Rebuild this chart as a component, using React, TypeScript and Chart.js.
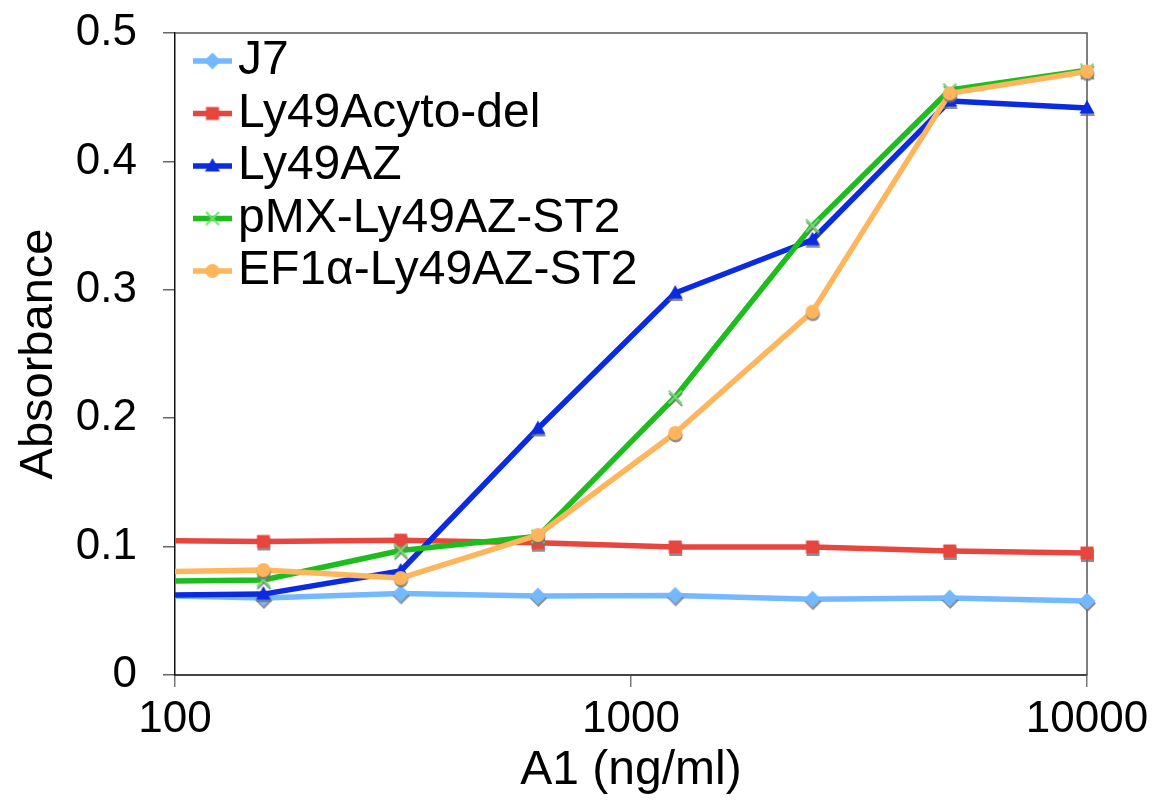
import React, { useEffect, useRef } from 'react';
import { Chart, registerables } from 'chart.js';

Chart.register(...registerables);

// ---- data ----
const concentrations = [78.125, 156.25, 312.5, 625, 1250, 2500, 5000, 10000];
const seriesNames = ['J7', 'Ly49Acyto-del', 'Ly49AZ', 'pMX-Ly49AZ-ST2', 'EF1α-Ly49AZ-ST2'];
const j7Values = [0.0623, 0.060, 0.0635, 0.0615, 0.062, 0.059, 0.060, 0.0576];
const cytoDelValues = [0.105, 0.104, 0.105, 0.103, 0.0997, 0.0997, 0.0966, 0.095];
const ly49azValues = [0.0619, 0.063, 0.081, 0.192, 0.2975, 0.339, 0.447, 0.4416];
const pmxValues = [0.0728, 0.074, 0.097, 0.108, 0.2165, 0.350, 0.4556, 0.471];
const ef1Values = [0.0798, 0.0818, 0.0755, 0.109, 0.1885, 0.283, 0.453, 0.470];
const xTickValues = [100, 1000, 10000];
const yTickStep = 0.1;

const FONT = '"Liberation Sans", Arial, Helvetica, sans-serif';

type Shape = 'diamond' | 'square' | 'triangle' | 'cross' | 'circle';

const seriesStyles: { color: string; marker: string; shape: Shape }[] = [
  { color: '#74b9ff', marker: '#74b9ff', shape: 'diamond' },
  { color: '#e8453f', marker: '#e8453f', shape: 'square' },
  { color: '#0b2be0', marker: '#0b2be0', shape: 'triangle' },
  { color: '#1ebd1e', marker: '#6ee06e', shape: 'cross' },
  { color: '#ffb55c', marker: '#ffb55c', shape: 'circle' },
];

function drawShape(ctx: CanvasRenderingContext2D, shape: Shape, x: number, y: number, color: string) {
  ctx.save();
  ctx.fillStyle = color;
  ctx.strokeStyle = color;
  ctx.beginPath();
  if (shape === 'diamond') {
    const r = 8.5;
    ctx.moveTo(x, y - r);
    ctx.lineTo(x + r, y);
    ctx.lineTo(x, y + r);
    ctx.lineTo(x - r, y);
    ctx.closePath();
    ctx.fill();
  } else if (shape === 'square') {
    const h = 6.5;
    ctx.rect(x - h, y - h, 2 * h, 2 * h);
    ctx.fill();
  } else if (shape === 'triangle') {
    ctx.moveTo(x, y - 8);
    ctx.lineTo(x + 7.5, y + 5.5);
    ctx.lineTo(x - 7.5, y + 5.5);
    ctx.closePath();
    ctx.fill();
  } else if (shape === 'cross') {
    const r = 6.5;
    ctx.lineWidth = 2;
    ctx.moveTo(x - r, y - r);
    ctx.lineTo(x + r, y + r);
    ctx.moveTo(x + r, y - r);
    ctx.lineTo(x - r, y + r);
    ctx.stroke();
  } else {
    ctx.arc(x, y, 7, 0, Math.PI * 2);
    ctx.fill();
  }
  ctx.restore();
}

function makeMarker(shape: Shape, color: string, shadow: boolean): HTMLCanvasElement {
  const c = document.createElement('canvas');
  c.width = 30;
  c.height = 30;
  const ctx = c.getContext('2d')!;
  if (shadow) drawShape(ctx, shape, 15.5, 17.5, 'rgba(115,115,115,0.8)');
  drawShape(ctx, shape, 15, 15, color);
  return c;
}

export default function App() {
  const ref = useRef<HTMLCanvasElement>(null);

  useEffect(() => {
    if (!ref.current) return;
    const seriesValues = [j7Values, cytoDelValues, ly49azValues, pmxValues, ef1Values];
    const pointImgs = seriesStyles.map((s) => makeMarker(s.shape, s.marker, true));
    const legendImgs = seriesStyles.map((s) => makeMarker(s.shape, s.marker, false));

    const datasets = seriesNames.map((name, i) => ({
      label: name,
      data: concentrations.map((x, j) => ({ x, y: seriesValues[i][j] })),
      borderColor: seriesStyles[i].color,
      backgroundColor: seriesStyles[i].color,
      borderWidth: 5.5,
      borderJoinStyle: 'round' as const,
      pointStyle: pointImgs[i],
      pointRadius: 8,
      pointHoverRadius: 8,
      tension: 0,
      order: seriesNames.length - i,
      clip: { left: 0, top: 20, right: 20, bottom: 0 },
    }));

    const plotPlugin = {
      id: 'plotDecor',
      beforeDatasetsDraw(chart: any) {
        const { ctx, chartArea: a } = chart;
        ctx.save();
        ctx.strokeStyle = '#555';
        ctx.lineWidth = 1.5;
        ctx.beginPath();
        ctx.moveTo(a.left, a.top);
        ctx.lineTo(a.right, a.top);
        ctx.lineTo(a.right, a.bottom);
        ctx.stroke();
        ctx.restore();
      },
      afterDraw(chart: any) {
        const { ctx } = chart;
        ctx.save();
        ctx.font = `48px ${FONT}`;
        ctx.textBaseline = 'middle';
        ctx.textAlign = 'left';
        seriesNames.forEach((name, i) => {
          const y = 61 + i * 52.5;
          ctx.strokeStyle = seriesStyles[i].color;
          ctx.lineWidth = 5.5;
          ctx.beginPath();
          ctx.moveTo(193, y);
          ctx.lineTo(232, y);
          ctx.stroke();
          ctx.drawImage(legendImgs[i], 212.5 - 15, y - 15);
          ctx.fillStyle = '#000';
          ctx.fillText(name, 238, y);
        });
        ctx.restore();
      },
    };

    const chart = new Chart(ref.current, {
      type: 'line',
      data: { datasets },
      options: {
        animation: false,
        responsive: true,
        maintainAspectRatio: false,
        layout: { padding: { left: 0, top: 33, right: 72, bottom: 0 } },
        plugins: { legend: { display: false }, tooltip: { enabled: false } },
        scales: {
          x: {
            type: 'logarithmic',
            position: 'bottom',
            min: 100,
            max: 10000,
            afterBuildTicks: (scale: any) => {
              scale.ticks = xTickValues.map((v) => ({ value: v, major: true }));
            },
            afterFit: (scale: any) => {
              scale.height = 125;
              scale.paddingLeft = 0;
              scale.paddingRight = 0;
            },
            ticks: {
              autoSkip: false,
              maxRotation: 0,
              color: '#000',
              padding: 6,
              font: { size: 44, family: FONT },
              callback: (v: any) => String(v),
            },
            grid: {
              drawOnChartArea: false,
              drawTicks: true,
              tickLength: 12,
              color: '#777',
              lineWidth: 1.5,
            },
            border: { display: true, color: '#444', width: 2 },
            title: {
              display: true,
              text: 'A1 (ng/ml)',
              color: '#000',
              font: { size: 48, family: FONT },
              padding: { top: 0, bottom: 0 },
            },
          },
          y: {
            type: 'linear',
            min: 0,
            max: 0.5,
            afterFit: (scale: any) => {
              scale.width = 175;
              scale.paddingTop = 0;
              scale.paddingBottom = 0;
            },
            ticks: {
              stepSize: yTickStep,
              color: '#000',
              padding: 26,
              font: { size: 44, family: FONT },
            },
            grid: {
              drawOnChartArea: false,
              drawTicks: true,
              tickLength: 12,
              color: '#666',
              lineWidth: 1.5,
            },
            border: { display: true, color: '#111', width: 1.5 },
            title: {
              display: true,
              text: 'Absorbance',
              color: '#000',
              font: { size: 47, family: FONT },
              padding: { top: 11, bottom: 0 },
            },
          },
        },
      },
      plugins: [plotPlugin],
    });
    return () => chart.destroy();
  }, []);

  return (
    <div style={{ position: 'fixed', left: 0, top: 0, width: 1159, height: 800, background: '#fff' }}>
      <canvas ref={ref} />
    </div>
  );
}
